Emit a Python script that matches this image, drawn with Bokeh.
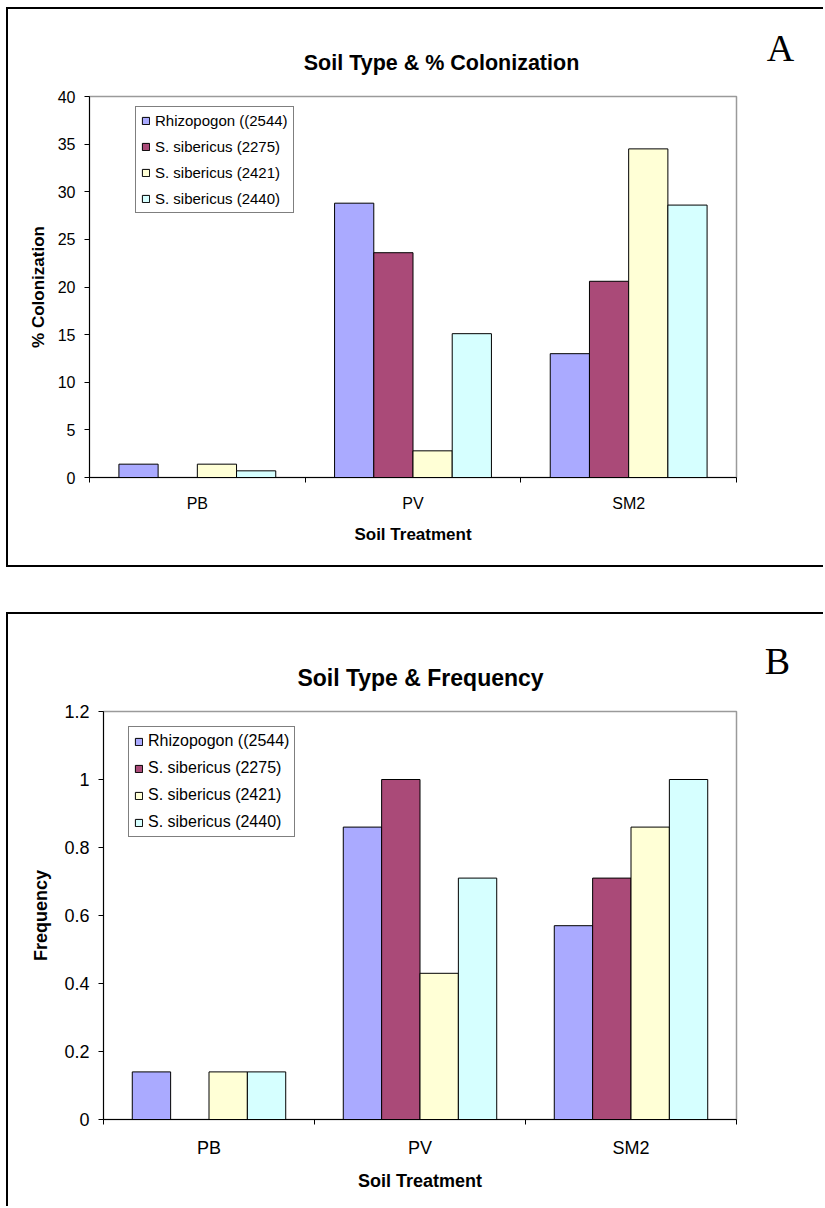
from bokeh.plotting import figure
from bokeh.models import Range1d, FixedTicker, Legend, LegendItem, Label, ColumnDataSource
from bokeh.embed import file_html
from bokeh.resources import INLINE

# ---------------- data ----------------
categories = ["PB", "PV", "SM2"]
series_names = ["Rhizopogon ((2544)", "S. sibericus (2275)",
                "S. sibericus (2421)", "S. sibericus (2440)"]
series_colors = ["#AAAAFF", "#AA4A78", "#FFFFD6", "#D6FFFF"]

colonization_rhizopogon_2544 = [1.4, 28.8, 13.0]
colonization_sibericus_2275 = [0.0, 23.6, 20.6]
colonization_sibericus_2421 = [1.4, 2.8, 34.5]
colonization_sibericus_2440 = [0.7, 15.1, 28.6]

frequency_rhizopogon_2544 = [0.14, 0.86, 0.57]
frequency_sibericus_2275 = [0.0, 1.0, 0.71]
frequency_sibericus_2421 = [0.14, 0.43, 0.86]
frequency_sibericus_2440 = [0.14, 0.71, 1.0]

y_ticks_a = [0, 5, 10, 15, 20, 25, 30, 35, 40]
y_ticks_b = [0, 0.2, 0.4, 0.6, 0.8, 1, 1.2]
y_tick_labels_b = ["0", "0.2", "0.4", "0.6", "0.8", "1", "1.2"]

FONT = "Liberation Sans"
SERIF = "Liberation Serif"
BAR_W = 1 / 5.5  # Excel gap width 150%


def make_panel(series_values, y_max, y_ticks, y_tick_labels, y_label,
               width, height, mb, fonts, legend_pos, legend_spacing, styles):
    p = figure(width=width, height=height, output_backend="svg",
               toolbar_location=None, x_range=Range1d(0, len(categories)),
               y_range=Range1d(0, y_max),
               min_border_left=mb[0], min_border_right=mb[1],
               min_border_top=mb[2], min_border_bottom=mb[3],
               styles=styles)
    p.xgrid.visible = False
    p.ygrid.visible = False
    p.outline_line_color = "#9A9A9A"
    p.outline_line_width = 1.5
    p.background_fill_color = "white"
    p.border_fill_color = "white"
    p.border_fill_alpha = 0

    items = []
    for k, (name, vals, col) in enumerate(zip(series_names, series_values, series_colors)):
        xs = [i + 0.5 + (k - 1.5) * BAR_W for i in range(len(categories))]
        src = ColumnDataSource(dict(x=xs, top=vals))
        r = p.vbar(x="x", top="top", width=BAR_W, source=src,
                   fill_color=col, line_color="black", line_width=1)
        items.append(LegendItem(label=name, renderers=[r]))

    legend = Legend(items=items, location=legend_pos,
                    label_text_font=FONT, label_text_font_size=fonts["legend"],
                    label_text_color="black",
                    glyph_width=9, glyph_height=9, label_height=9,
                    label_standoff=5, spacing=legend_spacing, padding=5,
                    margin=0, border_line_color="black", border_line_width=1,
                    background_fill_color="white", background_fill_alpha=1)
    p.add_layout(legend)

    # x axis: labels at category centres, ticks at category boundaries
    xa = p.xaxis[0]
    xa.ticker = FixedTicker(ticks=[i + 0.5 for i in range(len(categories))],
                            minor_ticks=list(range(len(categories) + 1)))
    xa.major_label_overrides = {i + 0.5: c for i, c in enumerate(categories)}
    xa.major_tick_line_color = None
    xa.major_tick_out = 5
    xa.major_tick_in = 0
    xa.minor_tick_out = 5
    xa.minor_tick_in = 0
    xa.minor_tick_line_color = "black"
    xa.axis_line_color = "black"
    xa.major_label_text_font = FONT
    xa.major_label_text_font_size = fonts["tick"]
    xa.major_label_text_color = "black"
    xa.major_label_standoff = fonts["xstand"]
    xa.axis_label = "Soil Treatment"
    xa.axis_label_text_font = FONT
    xa.axis_label_text_font_style = "bold"
    xa.axis_label_text_font_size = fonts["axis"]
    xa.axis_label_text_color = "black"
    xa.axis_label_standoff = fonts["xlabstand"]

    ya = p.yaxis[0]
    ya.ticker = FixedTicker(ticks=y_ticks)
    if y_tick_labels is not None:
        ya.major_label_overrides = dict(zip(y_ticks, y_tick_labels))
    ya.major_tick_out = 5
    ya.major_tick_in = 0
    ya.minor_tick_line_color = None
    ya.axis_line_color = "black"
    ya.major_tick_line_color = "black"
    ya.major_label_text_font = FONT
    ya.major_label_text_font_size = fonts["tick"]
    ya.major_label_text_color = "black"
    ya.major_label_standoff = 9
    ya.axis_label = y_label
    ya.axis_label_text_font = FONT
    ya.axis_label_text_font_style = "bold"
    ya.axis_label_text_font_size = fonts["axis"]
    ya.axis_label_text_color = "black"
    ya.axis_label_standoff = fonts["ylabstand"]
    return p


def make_header(title, title_size, title_xy, letter, letter_xy, width, height, left, top):
    """Transparent strip above a panel's plot area holding its title and letter.
    Its ranges are in pixels measured from the strip's top-left corner."""
    h = figure(width=width, height=height, output_backend="svg", toolbar_location=None,
               x_range=Range1d(0, width), y_range=Range1d(height, 0),
               x_axis_type=None, y_axis_type=None, min_border=0,
               styles={"position": "absolute", "left": f"{left}px", "top": f"{top}px"})
    h.grid.visible = False
    h.outline_line_color = None
    h.background_fill_alpha = 0
    h.border_fill_alpha = 0
    h.add_layout(Label(x=title_xy[0], y=title_xy[1], text=title, text_font=FONT,
                       text_font_style="bold", text_font_size=title_size,
                       text_color="black", text_align="center", text_baseline="middle"))
    h.add_layout(Label(x=letter_xy[0], y=letter_xy[1], text=letter, text_font=SERIF,
                       text_font_size="38px", text_color="black",
                       text_align="center", text_baseline="middle"))
    return h


pa = make_panel([colonization_rhizopogon_2544, colonization_sibericus_2275,
                 colonization_sibericus_2421, colonization_sibericus_2440],
                40, y_ticks_a, None, "% Colonization",
                width=817, height=560, mb=(81, 89, 87, 92),
                fonts=dict(tick="16px", axis="17px", legend="15px",
                           xstand=12, xlabstand=10, ylabstand=7),
                legend_pos=(46, 264), legend_spacing=9,
                styles={"margin-left": "6px", "margin-top": "7px",
                        "border-left": "2px solid black", "border-top": "2px solid black",
                        "border-bottom": "2px solid black"})

pb = make_panel([frequency_rhizopogon_2544, frequency_sibericus_2275,
                 frequency_sibericus_2421, frequency_sibericus_2440],
                1.2, y_ticks_b, y_tick_labels_b, "Frequency",
                width=817, height=594, mb=(95, 89, 97, 89),
                fonts=dict(tick="18px", axis="18px", legend="16px",
                           xstand=13, xlabstand=10, ylabstand=10),
                legend_pos=(25, 282), legend_spacing=9,
                styles={"margin-left": "6px", "margin-top": "45px",
                        "border-left": "2px solid black", "border-top": "2px solid black"})

ha = make_header("Soil Type & % Colonization", "21.5px", (433, 53), "A", (772, 38),
                 width=817, height=86, left=8, top=9)
hb = make_header("Soil Type & Frequency", "23px", (412, 63), "B", (769, 46),
                 width=817, height=96, left=8, top=614)

open("out.html", "w").write(file_html([pa, pb, ha, hb], INLINE))
